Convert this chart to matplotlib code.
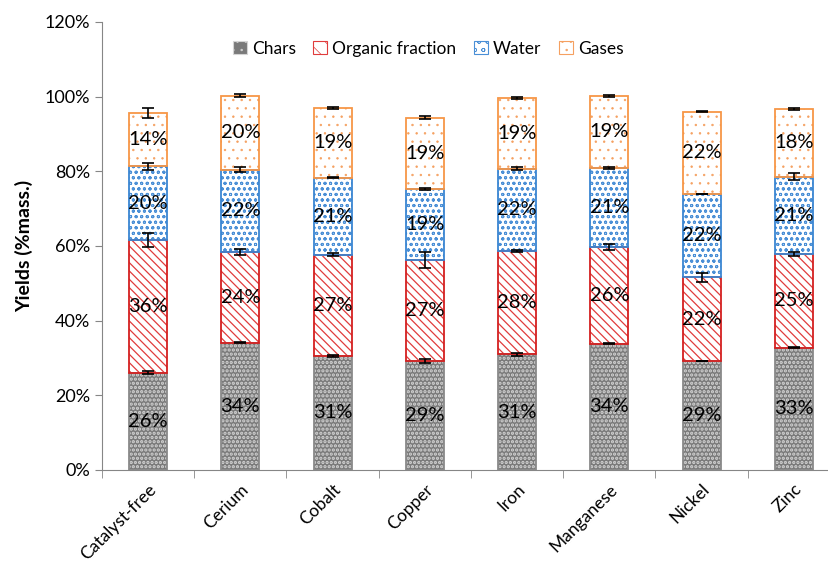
import matplotlib.pyplot as plt
from matplotlib.patches import Patch
import numpy as np

# Data (% mass)
catalysts = ["Catalyst-free", "Cerium", "Cobalt", "Copper", "Iron", "Manganese", "Nickel", "Zinc"]
chars = [26.1, 34.1, 30.6, 29.1, 31.0, 33.8, 29.2, 32.8]
organic = [35.5, 24.3, 27.1, 27.2, 27.7, 25.9, 22.4, 25.0]
water = [19.7, 22.0, 20.6, 18.9, 22.0, 21.2, 22.3, 20.8]
gases = [14.4, 19.8, 18.7, 19.2, 18.9, 19.3, 22.1, 18.1]

chars_err = [0.3, 0.2, 0.3, 0.5, 0.4, 0.1, 0.1, 0.1]
organic_err = [1.9, 0.9, 0.4, 2.2, 0.2, 0.8, 1.2, 0.6]
water_err = [0.9, 0.7, 0.2, 0.3, 0.4, 0.3, 0.1, 0.9]
gases_err = [1.3, 0.4, 0.3, 0.5, 0.3, 0.3, 0.1, 0.3]

series_names = ["Chars", "Organic fraction", "Water", "Gases"]

plt.rcParams['font.family'] = ['Lato', 'DejaVu Sans']

fig = plt.figure(figsize=(8.29, 5.63), dpi=100)
ax = fig.add_axes([102/829, 93/563, 738/829, 448/563])

x = np.arange(len(catalysts))
w = 0.41

# (face, hatch colour, hatch, hatch lw, outline)
styles = [
    ("#7a7a7a", "#d4d4d4", "....", 1.6, "#8a8a8a"),
    ("white", "#e03c3c", "\\\\\\\\", 0.9, "#d42020"),
    ("white", "#4a8fd6", "ooo", 0.7, "#3a86d2"),
    ("white", "#f5a060", "..", 0.5, "#f79646"),
]
data = [chars, organic, water, gases]
errs = [chars_err, organic_err, water_err, gases_err]

bottom = np.zeros(len(x))
handles = []
for vals, err, (fc, hc, hatch, hlw, ec), name in zip(data, errs, styles, series_names):
    plt.rcParams['hatch.linewidth'] = hlw
    vals = np.array(vals)
    ax.bar(x, vals, w, bottom=bottom, color=fc, edgecolor=hc, hatch=hatch, linewidth=0, zorder=2)
    ax.bar(x, vals, w, bottom=bottom, fill=False, edgecolor=ec, linewidth=1.3, zorder=3)
    top = bottom + vals
    ax.errorbar(x, top, yerr=err, fmt='none', ecolor='black', elinewidth=1.2,
                capsize=4, capthick=1.2, zorder=5)
    for xi, b, v in zip(x, bottom, vals):
        ax.text(xi, b + v / 2, f"{v:.0f}%", ha='center', va='center', fontsize=14.5,
                color='black', zorder=6)
    handles.append(Patch(facecolor=fc, edgecolor=hc, hatch=hatch[:2], linewidth=0.8, label=name))
    bottom = top

ax.set_ylim(0, 120)
ax.set_xlim(-0.5, len(x) - 0.5)
ax.set_yticks(np.arange(0, 121, 20))
ax.set_yticklabels([f"{v}%" for v in range(0, 121, 20)], fontsize=13)
ax.set_xticks(x)
ax.set_xticklabels(catalysts, rotation=45, ha='right', rotation_mode='anchor', fontsize=12.5)
ax.tick_params(axis='x', length=0, pad=8)
ax.set_xticks(np.arange(-0.5, len(x)), minor=True)
ax.tick_params(axis='x', which='minor', length=6, color='#868686')
ax.tick_params(axis='y', length=5, color='#868686', direction='out')
for s in ['top', 'right']:
    ax.spines[s].set_visible(False)
for s in ['left', 'bottom']:
    ax.spines[s].set_color('#868686')
ax.set_ylabel("Yields (%mass.)", fontsize=14, fontweight='bold', labelpad=8)

ax.legend(handles=handles, loc='upper center', bbox_to_anchor=(0.442, 0.993), ncol=4,
          frameon=False, fontsize=12.5, handlelength=0.8, handleheight=0.8,
          handletextpad=0.3, columnspacing=1.0)

fig.savefig("out.png", dpi=100)
